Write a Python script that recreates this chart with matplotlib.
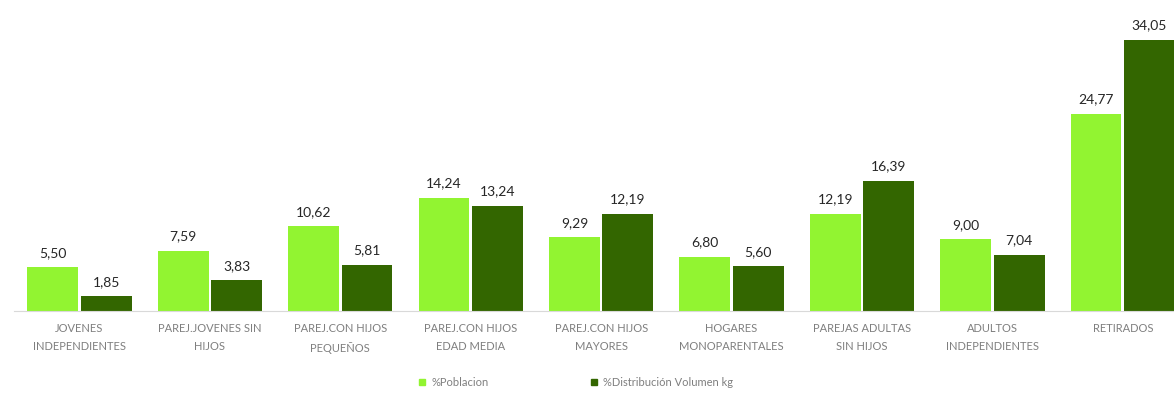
import numpy as np
import matplotlib.pyplot as plt
from matplotlib.lines import Line2D

# Chart data
categorias = ['JOVENES\nINDEPENDIENTES', 'PAREJ.JOVENES SIN\nHIJOS', 'PAREJ.CON HIJOS\nPEQUEÑOS',
              'PAREJ.CON HIJOS\nEDAD MEDIA', 'PAREJ.CON HIJOS\nMAYORES', 'HOGARES\nMONOPARENTALES',
              'PAREJAS ADULTAS\nSIN HIJOS', 'ADULTOS\nINDEPENDIENTES', 'RETIRADOS']
poblacion = [5.50, 7.59, 10.62, 14.24, 9.29, 6.80, 12.19, 9.00, 24.77]
volumen = [1.85, 3.83, 5.81, 13.24, 12.19, 5.60, 16.39, 7.04, 34.05]
series_names = ['%Poblacion', '%Distribución Volumen kg']

plt.rcParams['font.family'] = ['Lato', 'DejaVu Sans']

light = '#92F431'
dark = '#336600'

fig = plt.figure(figsize=(11.74, 3.93), dpi=100)
ax = fig.add_axes([0.0122, 0.2087, 0.9997, 0.7913])

x = np.arange(len(categorias))
w = 0.39
off = 0.205
b1 = ax.bar(x - off, poblacion, w, color=light)
b2 = ax.bar(x + off, volumen, w, color=dark)

for bars, vals in ((b1, poblacion), (b2, volumen)):
    for bar, v in zip(bars, vals):
        ax.annotate(f'{v:.2f}'.replace('.', ','),
                    (bar.get_x() + bar.get_width() / 2, bar.get_height()),
                    xytext=(0, 6), textcoords='offset points',
                    ha='center', va='bottom', fontsize=10, color='#262626')

ax.set_xlim(-0.5, len(categorias) - 0.5)
ax.set_ylim(0, 39.07)
ax.set_xticks(x)
ax.set_xticklabels(categorias, fontsize=8, color='#7F7F7F', linespacing=1.75)
ax.tick_params(axis='x', length=0, pad=9)
ax.set_yticks([])
for s in ['top', 'right', 'left']:
    ax.spines[s].set_visible(False)
ax.spines['bottom'].set_color('#D9D9D9')

handles = [Line2D([], [], marker='s', linestyle='none', markersize=4, color=light),
           Line2D([], [], marker='s', linestyle='none', markersize=4, color=dark)]
fig.legend(handles, series_names, loc='center', bbox_to_anchor=(575 / 1174, 1 - 382 / 393),
           ncol=2, frameon=False, fontsize=8, labelcolor='#7F7F7F',
           columnspacing=9, handletextpad=0.3, handlelength=1)

plt.savefig('out.png', dpi=100)
